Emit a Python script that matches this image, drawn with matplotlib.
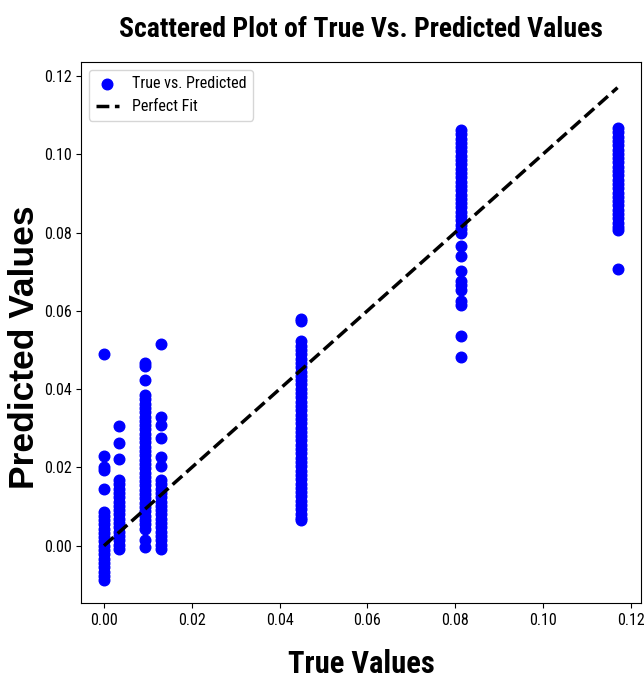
import numpy as np
import matplotlib
matplotlib.use("Agg")
import matplotlib.pyplot as plt

# condensed face to mimic the squeezed look of the reference
plt.rcParams["font.family"] = ["Roboto Condensed", "DejaVu Sans"]

true_levels = [0.0, 0.0034, 0.0093, 0.013, 0.0448, 0.0813, 0.117]

pred_0 = [0.049, 0.023, 0.0202, 0.0193, 0.0146, 0.0087, 0.0077, 0.0066, 0.0055, 0.0044,
          0.0033, 0.0022, 0.0011, 0.0, -0.0011, -0.0022, -0.0033, -0.0044, -0.0055,
          -0.0066, -0.0077, -0.0087]
pred_1 = [0.0305, 0.0262, 0.0222, 0.0168, 0.0157, 0.0146, 0.0135, 0.0124, 0.0113, 0.0102,
          0.0091, 0.008, 0.0069, 0.0058, 0.0047, 0.0036, 0.0025, 0.0014, 0.0003, -0.0008]
pred_2 = [0.0467, 0.046, 0.0424, 0.0385, 0.0374, 0.0363, 0.0352, 0.0341, 0.033, 0.0319,
          0.0308, 0.0297, 0.0286, 0.0275, 0.0264, 0.0253, 0.0242, 0.0231, 0.022, 0.0209,
          0.0198, 0.0187, 0.0176, 0.0165, 0.0154, 0.0143, 0.0132, 0.0121, 0.011, 0.0099,
          0.0088, 0.0077, 0.0066, 0.0055, 0.0044, 0.0015, -0.0003]
pred_3 = [0.0516, 0.033, 0.0308, 0.0276, 0.0228, 0.0204, 0.0168, 0.0157, 0.0146, 0.0135,
          0.0124, 0.0113, 0.0102, 0.0091, 0.008, 0.0069, 0.0058, 0.0047, 0.0036, 0.0025,
          0.0014, 0.0003, -0.0008]
pred_4 = [0.058, 0.0575, 0.0522, 0.0511, 0.05, 0.0489, 0.0478, 0.0467, 0.0456, 0.0445,
          0.0434, 0.0423, 0.0412, 0.0401, 0.039, 0.0379, 0.0368, 0.0357, 0.0346, 0.0335,
          0.0324, 0.0313, 0.0302, 0.0291, 0.028, 0.0269, 0.0258, 0.0247, 0.0236, 0.0225,
          0.0214, 0.0203, 0.0192, 0.0181, 0.017, 0.0159, 0.0148, 0.0137, 0.0126, 0.0115,
          0.0104, 0.0093, 0.0082, 0.0071, 0.0066]
pred_5 = [0.1062, 0.1051, 0.104, 0.1029, 0.1018, 0.1007, 0.0996, 0.0985, 0.0974, 0.0963,
          0.0952, 0.0941, 0.093, 0.0919, 0.0908, 0.0897, 0.0886, 0.0875, 0.0864, 0.0853,
          0.0842, 0.0831, 0.082, 0.0809, 0.0798, 0.0766, 0.0739, 0.0702, 0.0676, 0.0665,
          0.0654, 0.0624, 0.0614, 0.0536, 0.0483]
pred_6 = [0.1067, 0.1056, 0.1045, 0.1034, 0.1023, 0.1012, 0.1001, 0.099, 0.0979, 0.0968,
          0.0957, 0.0946, 0.0935, 0.0924, 0.0913, 0.0902, 0.0891, 0.088, 0.0869, 0.0858,
          0.0847, 0.0836, 0.0825, 0.0814, 0.0807, 0.0707]

pred_groups = [pred_0, pred_1, pred_2, pred_3, pred_4, pred_5, pred_6]

tick_vals = [0.0, 0.02, 0.04, 0.06, 0.08, 0.10, 0.12]
tick_labels = ['0.00', '0.02', '0.04', '0.06', '0.08', '0.10', '0.12']

y_true = np.concatenate([[t] * len(p) for t, p in zip(true_levels, pred_groups)])
y_pred = np.concatenate(pred_groups)

fig = plt.figure(figsize=(6.44, 6.79), dpi=100)
ax = fig.add_axes([0.126, 0.112, 0.869, 0.797])

ax.scatter(y_true, y_pred, color='blue', s=58, label='True vs. Predicted')
lo, hi = min(y_true), max(y_true)
ax.plot([lo, hi], [lo, hi], color='black', linestyle='--', linewidth=2.5, label='Perfect Fit')

ax.set_xlim(-0.0052, 0.1223)
ax.set_ylim(-0.0146, 0.1236)
ax.set_xticks(tick_vals)
ax.set_yticks(tick_vals)
ax.set_xticklabels(tick_labels)
ax.set_yticklabels(tick_labels)
ax.tick_params(labelsize=11.5)

ax.set_title('Scattered Plot of True Vs. Predicted Values', fontsize=20,
             fontweight='bold', pad=18)
ax.set_xlabel('True Values', fontsize=22, fontweight='bold', labelpad=15)
ax.set_ylabel('Predicted Values', fontsize=25.5, fontweight='bold',
              family=['Liberation Sans', 'DejaVu Sans'])
ax.yaxis.set_label_coords(-0.071, 0.473)

ax.legend(loc='upper left', fontsize=11.5, handlelength=1.5)

fig.savefig('out.png', dpi=100)
